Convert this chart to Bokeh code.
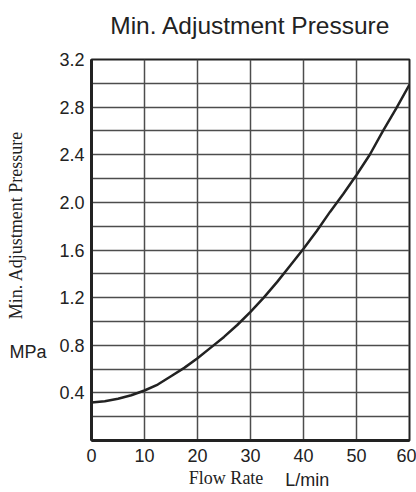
from bokeh.plotting import figure
from bokeh.models import FixedTicker, Range1d, LinearAxis, PrintfTickFormatter
from bokeh.embed import file_html
from bokeh.resources import INLINE

# Data
flow_rate = [0, 2.5, 5, 7.5, 10, 12.5, 15, 17.5, 20, 22.5, 25, 27.5, 30,
             32.5, 35, 37.5, 40, 42.5, 45, 47.5, 50, 52.5, 55, 57.5, 60]
pressure = [0.32, 0.33, 0.35, 0.38, 0.42, 0.47, 0.54, 0.61, 0.69, 0.78, 0.87, 0.97, 1.08,
            1.20, 1.33, 1.47, 1.61, 1.76, 1.92, 2.07, 2.23, 2.40, 2.60, 2.79, 2.99]

x_ticks = [0, 10, 20, 30, 40, 50, 60]
y_ticks = [0.4, 0.8, 1.2, 1.6, 2.0, 2.4, 2.8, 3.2]
y_grid = [0.2, 0.4, 0.6, 0.8, 1.0, 1.2, 1.4, 1.6, 1.8, 2.0, 2.2, 2.4, 2.6, 2.8, 3.0]

title_text = "Min. Adjustment Pressure"
y_label_text = "Min. Adjustment Pressure"
y_unit_text = "MPa"
x_label_text = "Flow Rate"
x_unit_text = "L/min"

TXT = "#222222"
SANS = "Liberation Sans"
SERIF = "Liberation Serif"

p = figure(width=416, height=492, output_backend="svg", toolbar_location=None,
           x_range=Range1d(0, 60), y_range=Range1d(0, 3.2),
           min_border_left=91, min_border_right=7, min_border_bottom=52, min_border_top=59)
p.background_fill_color = "white"
p.border_fill_color = "white"
p.outline_line_color = "#222222"
p.outline_line_width = 2

p.xaxis.ticker = FixedTicker(ticks=x_ticks)
p.yaxis.ticker = FixedTicker(ticks=y_ticks)
p.yaxis.formatter = PrintfTickFormatter(format="%.1f")
for ax in (p.xaxis, p.yaxis):
    ax.axis_line_color = "#222222"
    ax.axis_line_width = 3
    ax.major_tick_line_color = None
    ax.minor_tick_line_color = None
    ax.major_tick_out = 0
    ax.major_tick_in = 0
    ax.minor_tick_out = 0
    ax.major_label_text_font = SANS
    ax.major_label_text_font_size = "18px"
    ax.major_label_text_color = TXT
p.xaxis.major_label_standoff = 8
p.yaxis.major_label_standoff = 7


def text_axis(ticks, text, font, size, standoff, orientation="horizontal"):
    return LinearAxis(ticker=FixedTicker(ticks=ticks),
                      formatter=PrintfTickFormatter(format=text),
                      axis_line_color=None, major_tick_line_color=None,
                      minor_tick_line_color=None,
                      major_tick_out=0, major_tick_in=0, minor_tick_out=0,
                      major_label_text_font=font, major_label_text_font_size=size,
                      major_label_text_color=TXT, major_label_standoff=standoff,
                      major_label_orientation=orientation)


# Chart title, centred over the plot frame
p.add_layout(text_axis([30], title_text, SANS, "24.5px", 21), "above")
# "MPa" unit and rotated axis title on the left
p.add_layout(text_axis([0.74], y_unit_text, SANS, "18px", 10), "left")
p.add_layout(text_axis([1.81], y_label_text, SERIF, "18px", -20, "vertical"), "left")
# "Flow Rate" and "L/min" below
p.add_layout(text_axis([25.4], x_label_text, SERIF, "18px", 3), "below")
p.add_layout(text_axis([40.7], x_unit_text, SANS, "18px", -21), "below")
# empty spacer axis that gives back space so the frame keeps its height
p.add_layout(text_axis([], "", SANS, "18px", -6), "below")

p.xgrid.ticker = FixedTicker(ticks=[10, 20, 30, 40, 50])
p.ygrid.ticker = FixedTicker(ticks=y_grid)
for g in (p.xgrid, p.ygrid):
    g.grid_line_color = "#4d4d4d"
    g.grid_line_width = 1.5

p.line(flow_rate, pressure, line_color="#222222", line_width=2.5)

open("out.html", "w").write(file_html(p, INLINE))
